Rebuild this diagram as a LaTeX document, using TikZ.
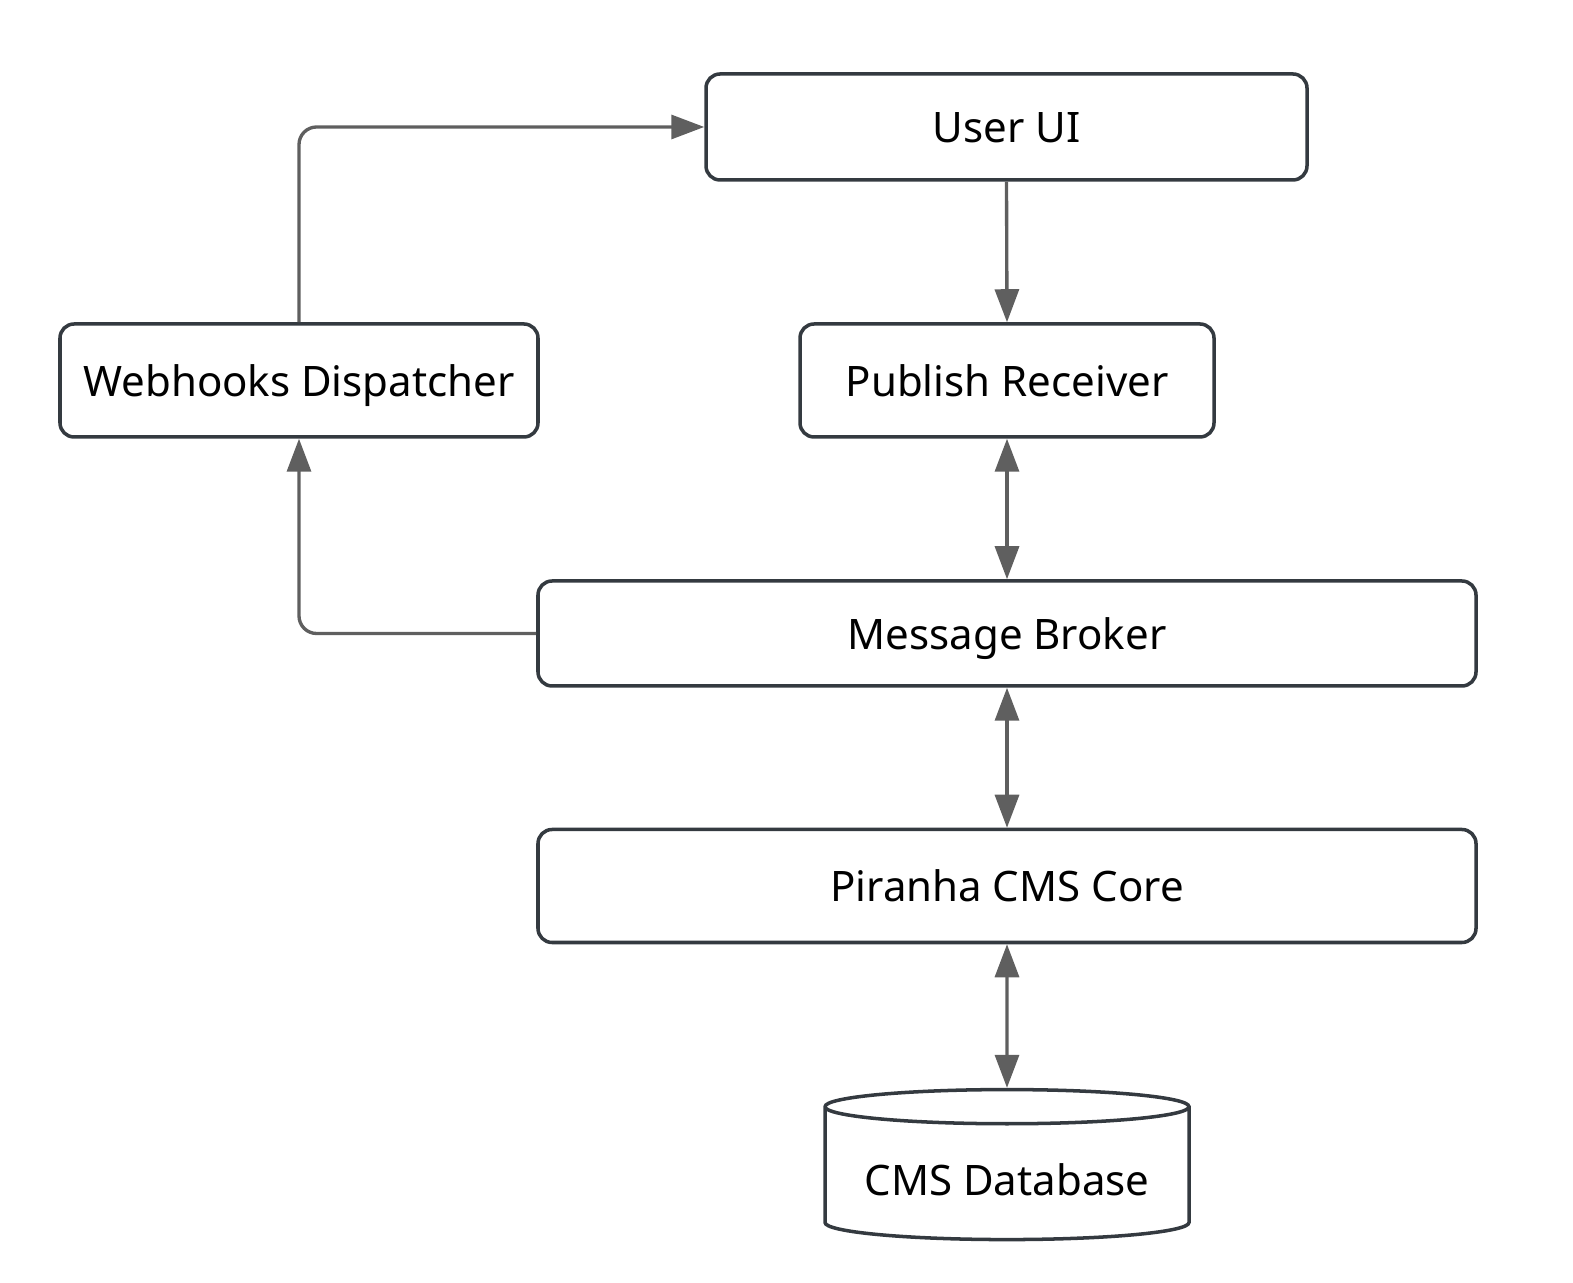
\documentclass[tikz,border=0pt]{standalone}
\usepackage{fontspec}
\setmainfont{Noto Sans}
\usetikzlibrary{arrows.meta,shapes.geometric}

\definecolor{boxline}{HTML}{343A40}
\definecolor{arrowline}{HTML}{5F5F5F}

\begin{document}
\begin{tikzpicture}[
    box/.style={draw=boxline, line width=1pt, rounded corners=4pt, fill=white, inner sep=0pt,
        font=\fontsize{11.95}{15}\selectfont, text height=0.9em, text depth=0pt},
    link/.style={draw=arrowline, line width=0.95pt, -{Triangle[length=0.33cm,width=0.24cm]}},
    both/.style={link, {Triangle[length=0.33cm,width=0.24cm]}-{Triangle[length=0.33cm,width=0.24cm]}}
]
\useasboundingbox (0,0) rectangle (15.73,-12.83);

\node[box, minimum width=6.01cm, minimum height=1.06cm] (ui) at (10.065,-1.27) {User UI};
\node[box, minimum width=4.78cm, minimum height=1.13cm] (wd) at (2.99,-3.805) {Webhooks Dispatcher};
\node[box, minimum width=4.14cm, minimum height=1.13cm] (pr) at (10.07,-3.805) {Publish Receiver};
\node[box, minimum width=9.38cm, minimum height=1.05cm] (mb) at (10.07,-6.335) {Message Broker};
\node[box, minimum width=9.38cm, minimum height=1.13cm] (core) at (10.07,-8.86) {Piranha CMS Core};
\node[box, rounded corners=0pt, cylinder, shape border rotate=90, aspect=0.12, text height=1.2em,
      minimum width=3.64cm, minimum height=1.50cm] (db) at (10.07,-11.74) {CMS Database};

\draw[link, rounded corners=5pt] (wd.north) |- (ui.west);
\draw[link] (ui.south) -- (pr.north);
\draw[link, rounded corners=5pt] (mb.west) -| (wd.south);
\draw[both] (pr.south) -- (mb.north);
\draw[both] (mb.south) -- (core.north);
\draw[both] (core.south) -- (db.north);
\end{tikzpicture}
\end{document}
